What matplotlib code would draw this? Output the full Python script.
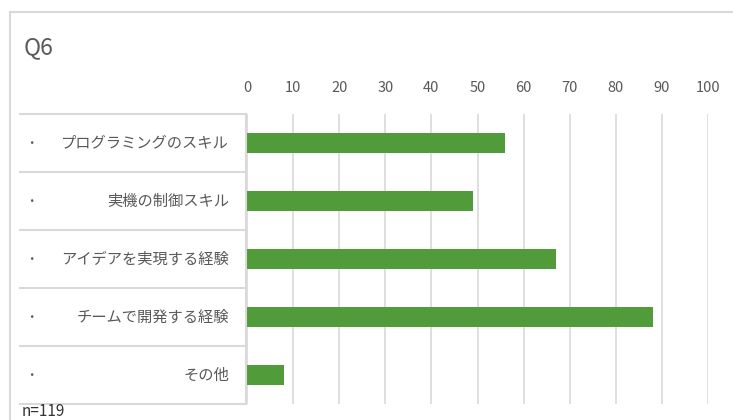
import matplotlib.pyplot as plt
from matplotlib.lines import Line2D

plt.rcParams['font.family'] = ['Noto Sans CJK JP', 'DejaVu Sans']

# data
categories = ["プログラミングのスキル", "実機の制御スキル", "アイデアを実現する経験",
              "チームで開発する経験", "その他"]
values = [56, 49, 67, 88, 8]
ticks = list(range(0, 101, 10))
title = "Q6"
note = "n=119"

W, H = 733, 420
fig = plt.figure(figsize=(W / 100, H / 100), dpi=100)

def fx(px):
    return px / W

def fy(py):
    return 1 - py / H

border = "#d9d9d9"
text_gray = "#595959"

# outer chart border (cut off at right/bottom)
fig.add_artist(Line2D([fx(10), fx(10)], [fy(12), fy(420)], color=border, lw=1.5))
fig.add_artist(Line2D([fx(10), fx(733)], [fy(12), fy(12)], color=border, lw=1.5))

# plot area
top, bottom = 114, 404
ax = fig.add_axes([fx(247), fy(bottom), fx(708) - fx(247), fy(top) - fy(bottom)])
n = len(categories)
ypos = list(range(n))
ax.barh(ypos, values, height=0.36, color="#529b3a", zorder=3)
ax.set_xlim(0, 100)
ax.set_ylim(n - 0.5, -0.5)
ax.set_xticks(ticks)
ax.xaxis.tick_top()
ax.tick_params(axis="x", length=0, labelsize=10.5, labelcolor=text_gray, pad=14)
ax.set_yticks([])
ax.grid(axis="x", color=border, lw=1.2, zorder=0)
for s in ax.spines.values():
    s.set_visible(False)

# label table on the left
row_h = (bottom - top) / n
for i in range(n + 1):
    y = top + i * row_h
    fig.add_artist(Line2D([fx(20), fx(246)], [fy(y), fy(y)], color=border, lw=1.5))
fig.add_artist(Line2D([fx(246), fx(246)], [fy(top), fy(bottom)], color=border, lw=1.5))
for i, cat in enumerate(categories):
    yc = top + (i + 0.5) * row_h
    fig.text(fx(31), fy(yc), "・", ha="center", va="center", fontsize=9, color=text_gray)
    fig.text(fx(229), fy(yc), cat, ha="right", va="center", fontsize=11, color=text_gray)

fig.text(fx(24), fy(48), title, ha="left", va="center", fontsize=16.5, color=text_gray)
fig.text(fx(22), fy(419.5), note, ha="left", va="bottom", fontsize=11, color="#333333")

fig.savefig("out.png", dpi=100)
